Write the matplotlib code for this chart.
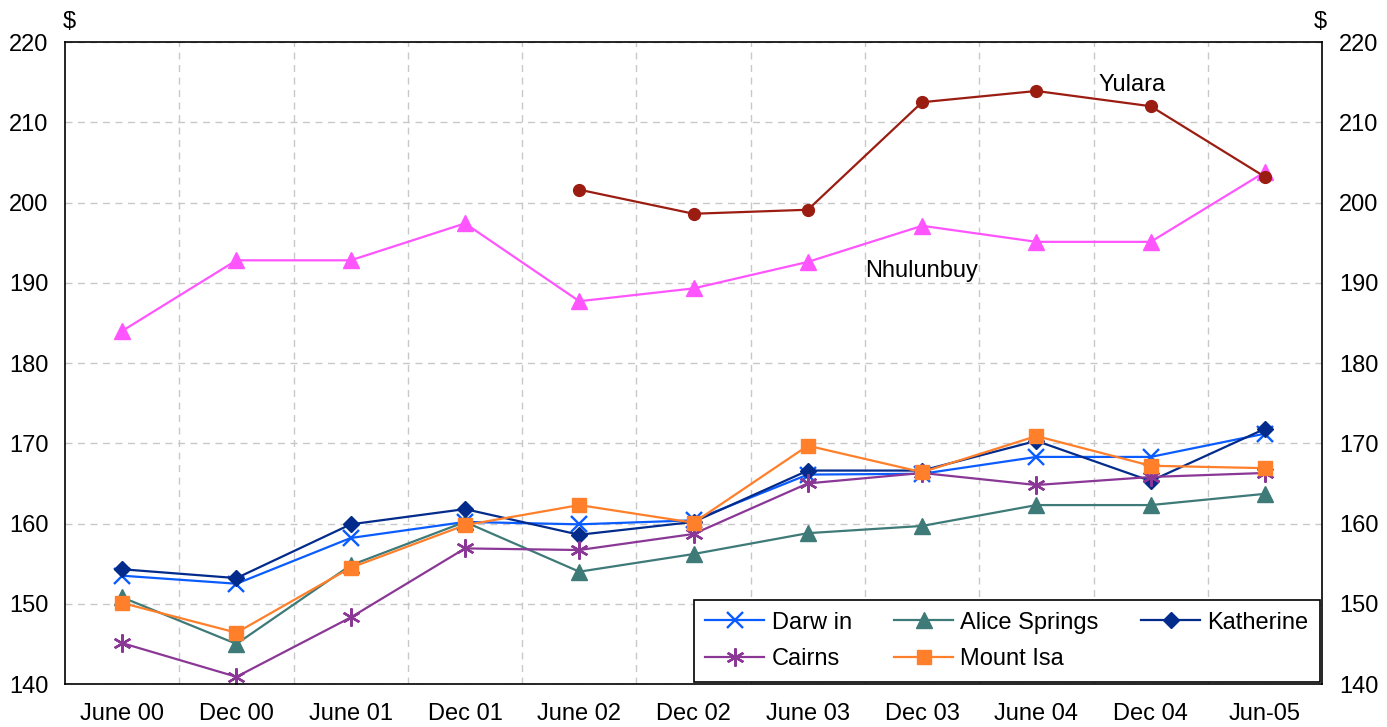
import matplotlib.pyplot as plt
import numpy as np

plt.rcParams['font.family'] = ['Liberation Sans', 'DejaVu Sans']

periods = ['June 00', 'Dec 00', 'June 01', 'Dec 01', 'June 02', 'Dec 02',
           'June 03', 'Dec 03', 'June 04', 'Dec 04', 'Jun-05']

darwin = [153.5, 152.5, 158.2, 160.2, 159.9, 160.4, 166.1, 166.2, 168.3, 168.3, 171.2]
alice_springs = [150.8, 145.0, 154.8, 160.2, 154.0, 156.2, 158.8, 159.7, 162.3, 162.3, 163.7]
katherine = [154.3, 153.2, 159.9, 161.8, 158.6, 160.2, 166.6, 166.6, 170.3, 165.3, 171.8]
cairns = [145.1, 140.9, 148.3, 156.9, 156.7, 158.7, 165.0, 166.3, 164.8, 165.8, 166.3]
mount_isa = [150.1, 146.4, 154.5, 159.8, 162.3, 160.1, 169.7, 166.4, 170.9, 167.2, 166.9]
nhulunbuy = [184.0, 192.8, 192.8, 197.4, 187.7, 189.3, 192.6, 197.1, 195.1, 195.1, 203.8]
yulara = [np.nan, np.nan, np.nan, np.nan, 201.6, 198.6, 199.1, 212.5, 213.9, 212.0, 203.2]

x = np.arange(len(periods))

fig = plt.figure(figsize=(13.87, 7.27), dpi=100)
ax = fig.add_axes([0.0469, 0.0591, 0.9063, 0.8831])

lw = 1.6
h_darwin, = ax.plot(x, darwin, color='#0a5cff', marker='x', ms=12, mew=1.7, lw=lw, label='Darw in')
h_alice, = ax.plot(x, alice_springs, color='#3e7a78', marker='^', ms=12, lw=lw, label='Alice Springs')
h_kath, = ax.plot(x, katherine, color='#022b8c', marker='D', ms=8.5, lw=lw, label='Katherine')
h_cairns, = ax.plot(x, cairns, color='#8a3796', marker=(6, 2, 0), ms=13, mew=1.7, lw=lw, label='Cairns')
h_isa, = ax.plot(x, mount_isa, color='#ff7f2a', marker='s', ms=10, lw=lw, label='Mount Isa')
ax.plot(x, nhulunbuy, color='#ff55ff', marker='^', ms=11, lw=lw)
ax.plot(x, yulara, color='#9b1d12', marker='o', ms=8.5, lw=lw)

ax.text(8.54, 214.7, 'Yulara', fontsize=17, ha='left', va='center')
ax.text(6.5, 191.5, 'Nhulunbuy', fontsize=17, ha='left', va='center')

ax.set_xlim(-0.5, len(periods) - 0.5)
ax.set_ylim(140, 220)
ax.set_yticks(np.arange(140, 221, 10))
ax.set_xticks(x)
ax.set_xticklabels(periods)
ax.set_xticks(np.arange(0.5, len(periods) - 0.5, 1), minor=True)

ax.grid(True, which='major', axis='y', color='#c8c8c8', ls=(0, (5, 4)), lw=1)
ax.grid(True, which='minor', axis='x', color='#c8c8c8', ls=(0, (5, 4)), lw=1)
ax.set_axisbelow(True)

ax.tick_params(axis='both', which='both', length=0, labelsize=17)
ax.tick_params(axis='y', labelright=True, pad=12)
ax.tick_params(axis='x', pad=14)
for s in ax.spines.values():
    s.set_color('black')
    s.set_linewidth(1.2)

fig.text(0.045, 0.962, '$', fontsize=17, ha='left')
fig.text(0.947, 0.962, '$', fontsize=17, ha='left')

handles = [h_darwin, h_cairns, h_alice, h_isa, h_kath]
leg = ax.legend(handles=handles, labels=[h.get_label() for h in handles], ncol=3,
                loc='lower right', bbox_to_anchor=(1.0, 0.0), borderaxespad=0.08,
                fontsize=17, frameon=True, fancybox=False, edgecolor='black', framealpha=1,
                handlelength=2.5, columnspacing=1.8, borderpad=0.5, labelspacing=0.62,
                handletextpad=0.3)
leg.get_frame().set_linewidth(1.2)

fig.savefig('out.png', dpi=100)
